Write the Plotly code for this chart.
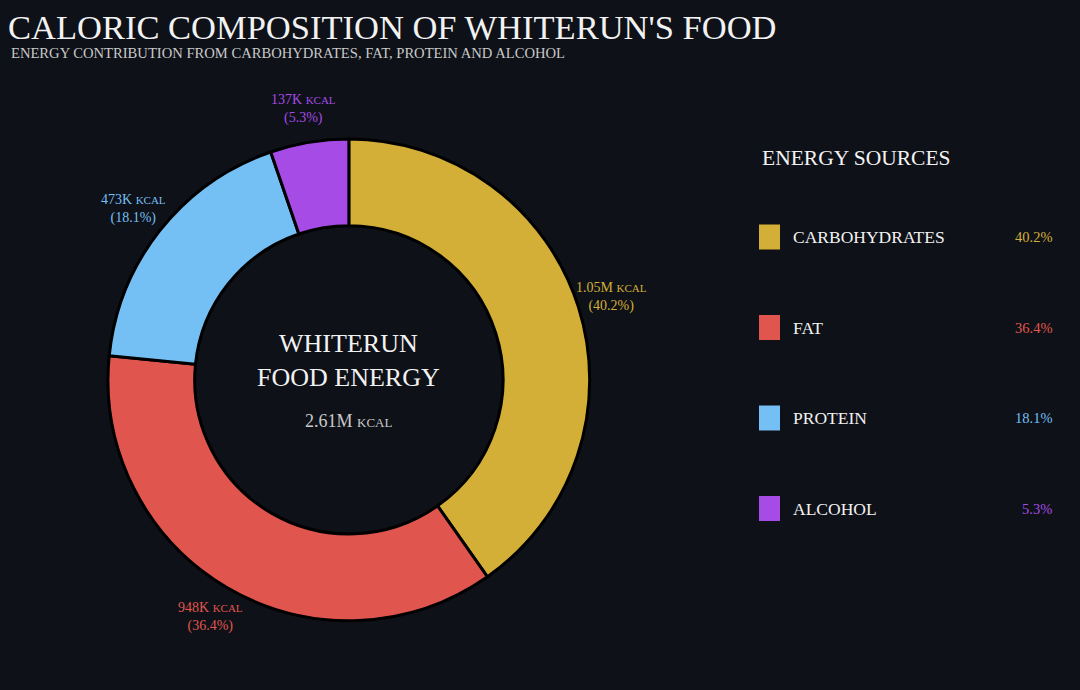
import math
import plotly.graph_objects as go

# ── Palette / theme ──────────────────────────────────────────────
BG    = "#0E1117"
TXT   = "#F2F2F2"
SUB   = "#C9C9C9"
FONT  = "Liberation Serif, DejaVu Serif, serif"

# ── Data ─────────────────────────────────────────────────────────
SOURCES = ["Carbohydrates", "Fat", "Protein", "Alcohol"]
KCAL    = [1049000, 948000, 473000, 137000]
COLORS  = ["#D4AF37", "#E0564F", "#74BFF4", "#A64BE6"]

TOTAL = sum(KCAL)
PCT   = [v / TOTAL * 100 for v in KCAL]

W, H = 1080, 690
PIE_X = [0.1, 0.546]
PIE_Y = [0.1, 0.799]
CX = (PIE_X[0] + PIE_X[1]) / 2
CY = (PIE_Y[0] + PIE_Y[1]) / 2
LABEL_R = 275  # px from centre, along each slice's mid angle


def fmt_kcal(v):
    if v >= 1e6:
        return f"{v / 1e6:.2f}M"
    return f"{v / 1e3:.0f}K"


# ── Donut ────────────────────────────────────────────────────────
fig = go.Figure(
    go.Pie(
        labels=SOURCES,
        values=KCAL,
        textinfo="none",
        marker=dict(colors=COLORS, line=dict(color="#000000", width=3)),
        hole=0.64,
        sort=False,
        direction="clockwise",
        rotation=0,
        showlegend=False,
        hoverinfo="label+value+percent",
        domain=dict(x=PIE_X, y=PIE_Y),
    )
)

# ── Slice labels (outside, centred on mid angle) ─────────────────
cum = 0
for v, p, col in zip(KCAL, PCT, COLORS):
    mid = (cum + v / 2) / TOTAL * 2 * math.pi
    cum += v
    fig.add_annotation(
        text=f"{fmt_kcal(v)} <span style='font-size:11px'>KCAL</span><br>({p:.1f}%)",
        x=CX + LABEL_R * math.sin(mid) / W,
        y=CY + LABEL_R * math.cos(mid) / H,
        xref="paper", yref="paper",
        xanchor="center", yanchor="middle",
        showarrow=False, align="center",
        font=dict(size=14, color=col, family=FONT),
    )

# ── Centre label ─────────────────────────────────────────────────
fig.add_annotation(
    text="WHITERUN<br>FOOD ENERGY",
    x=CX, y=1 - 360.5 / H, xref="paper", yref="paper",
    xanchor="center", yanchor="middle",
    showarrow=False, align="center",
    font=dict(size=26, color=TXT, family=FONT),
)
fig.add_annotation(
    text=f"{TOTAL / 1e6:.2f}M <span style='font-size:13px'>KCAL</span>",
    x=CX, y=1 - 421 / H, xref="paper", yref="paper",
    xanchor="center", yanchor="middle",
    showarrow=False,
    font=dict(size=18, color=SUB, family=FONT),
)

# ── Subtitle ─────────────────────────────────────────────────────
fig.add_annotation(
    text="ENERGY CONTRIBUTION FROM CARBOHYDRATES, FAT, PROTEIN AND ALCOHOL",
    x=9 / W, y=1 - 53 / H, xref="paper", yref="paper",
    xanchor="left", yanchor="middle", showarrow=False,
    font=dict(size=14.6, color=SUB, family=FONT),
)

# ── Custom legend ────────────────────────────────────────────────
fig.add_annotation(
    text="ENERGY SOURCES",
    x=760 / W, y=1 - 158 / H, xref="paper", yref="paper",
    xanchor="left", yanchor="middle", showarrow=False,
    font=dict(size=21.5, color=TXT, family=FONT),
)
for i, (name, pct, col) in enumerate(zip(SOURCES, PCT, COLORS)):
    yc = 1 - (237 + i * 90.5) / H
    fig.add_shape(
        type="rect", xref="paper", yref="paper",
        x0=759 / W, x1=780 / W, y0=yc - 12.5 / H, y1=yc + 12.5 / H,
        fillcolor=col, line=dict(width=0),
    )
    fig.add_annotation(
        text=name.upper(), x=791 / W, y=yc, xref="paper", yref="paper",
        xanchor="left", yanchor="middle", showarrow=False,
        font=dict(size=17.5, color=TXT, family=FONT),
    )
    fig.add_annotation(
        text=f"{pct:.1f}%", x=1054 / W, y=yc, xref="paper", yref="paper",
        xanchor="right", yanchor="middle", showarrow=False,
        font=dict(size=14.5, color=col, family=FONT),
    )

# ── Layout ───────────────────────────────────────────────────────
fig.update_layout(
    title=dict(
        text="CALORIC COMPOSITION OF WHITERUN'S FOOD",
        x=8 / W, xanchor="left", y=1 - 27 / H, yanchor="middle",
        font=dict(size=34.5, color=TXT, family=FONT),
    ),
    paper_bgcolor=BG,
    plot_bgcolor=BG,
    font=dict(family=FONT, color=TXT),
    width=W,
    height=H,
    margin=dict(l=0, r=0, t=0, b=0),
)

fig.write_html(
    "out.html",
    config={"displayModeBar": False},
    post_script="document.body.style.margin='0';document.body.style.background='%s';" % BG,
)
